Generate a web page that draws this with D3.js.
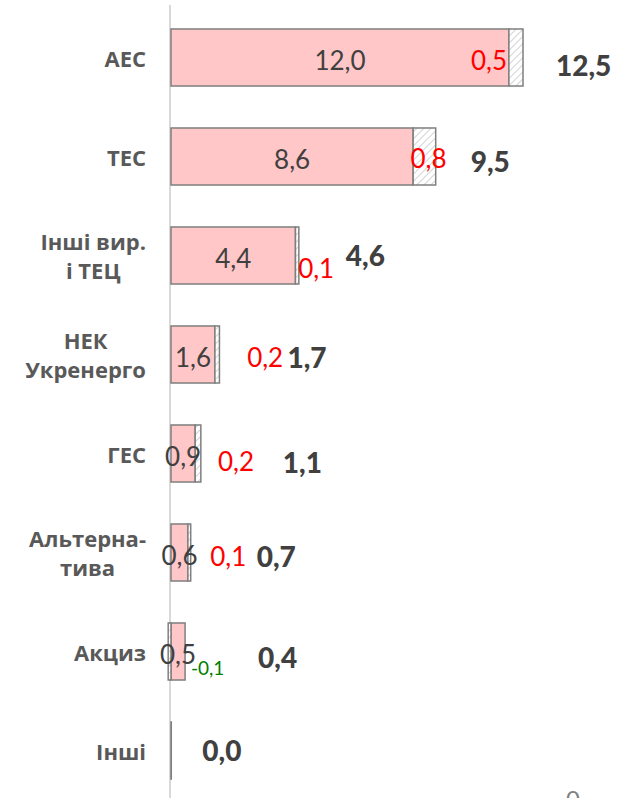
<!DOCTYPE html>
<html lang="uk">
<head>
<meta charset="UTF-8">
<title>Bar chart</title>
<script src="https://d3js.org/d3.v7.min.js"></script>
<style>
  html, body { margin: 0; padding: 0; background: #fff; }
  svg { display: block; }
</style>
</head>
<body>
<div id="chart"></div>
<script>
// data
var categories = ["АЕС", "ТЕС", "Інші вир.\nі ТЕЦ", "НЕК\nУкренерго", "ГЕС", "Альтерна-\nтива", "Акциз", "Інші"];
var baseValues = [12.0, 8.6, 4.42, 1.56, 0.86, 0.6, 0.5, 0.01];
var changeValues = [0.5, 0.8, 0.12, 0.16, 0.2, 0.1, -0.1, 0];
var baseLabels = ["12,0", "8,6", "4,4", "1,6", "0,9", "0,6", "0,5", ""];
var changeLabels = ["0,5", "0,8", "0,1", "0,2", "0,2", "0,1", "-0,1", ""];
var totalLabels = ["12,5", "9,5", "4,6", "1,7", "1,1", "0,7", "0,4", "0,0"];

// label nudges (px), the labels were moved by hand in the original
var changeDx = [-27, 4, 19, 48, 38, 39, 38, 0];
var changeDy = [2, 1, 12, 2, 7, 3, 16, 0];
var totalDx = [33, 35, 47, 68, 82, 66, 73, 31];
var totalDy = [7, 4, -1, 2, 8, 3, 5, -1];

var width = 630, height = 798;

var svg = d3.select("#chart").append("svg")
    .attr("width", width)
    .attr("height", height);

var defs = svg.append("defs");
var pat = defs.append("pattern")
    .attr("id", "hatch")
    .attr("patternUnits", "userSpaceOnUse")
    .attr("width", 5).attr("height", 5)
    .attr("patternTransform", "rotate(45)");
pat.append("rect").attr("width", 5).attr("height", 5).attr("fill", "#fff");
pat.append("line")
    .attr("x1", 0).attr("y1", 0).attr("x2", 0).attr("y2", 5)
    .attr("stroke", "#bfbfbf").attr("stroke-width", 1.4);

var x = d3.scaleLinear().domain([0, 12.5]).range([171, 523]);
var y = d3.scaleBand()
    .domain(categories)
    .range([8, 8 + 99 * categories.length])
    .paddingInner(0.424)
    .paddingOuter(0.212);

// vertical axis line
svg.append("line")
    .attr("x1", 170).attr("x2", 170)
    .attr("y1", 5).attr("y2", height)
    .attr("stroke", "#d9d9d9").attr("stroke-width", 2);

var rows = svg.selectAll("g.row")
    .data(categories)
    .enter().append("g")
    .attr("class", "row");

// main segment
rows.append("rect")
    .attr("x", function(d, i) { return x(0); })
    .attr("y", function(d) { return y(d); })
    .attr("width", function(d, i) { return x(baseValues[i]) - x(0); })
    .attr("height", y.bandwidth())
    .attr("fill", "#ffc7c7")
    .attr("stroke", "#7f7f7f")
    .attr("stroke-width", 1.5);

// change segment (hatched)
rows.filter(function(d, i) { return changeValues[i] !== 0; })
    .append("rect")
    .attr("x", function(d) {
        var i = categories.indexOf(d);
        return changeValues[i] > 0 ? x(baseValues[i]) : x(changeValues[i]);
    })
    .attr("y", function(d) { return y(d); })
    .attr("width", function(d) {
        var i = categories.indexOf(d);
        return Math.abs(x(changeValues[i]) - x(0));
    })
    .attr("height", y.bandwidth())
    .attr("fill", "url(#hatch)")
    .attr("stroke", "#7f7f7f")
    .attr("stroke-width", 1.5);

function mid(d) { return y(d) + y.bandwidth() / 2; }

// value labels inside the bars
rows.append("text")
    .attr("x", function(d, i) { return (x(0) + x(baseValues[i])) / 2; })
    .attr("y", function(d) { return mid(d) + 2; })
    .attr("text-anchor", "middle")
    .attr("dominant-baseline", "central")
    .style("font-family", "Lato, sans-serif")
    .style("font-size", "26px")
    .attr("fill", "#404040")
    .text(function(d, i) { return baseLabels[i]; });

// change labels
rows.append("text")
    .attr("x", function(d, i) {
        var a = changeValues[i] > 0 ? baseValues[i] : changeValues[i];
        var b = changeValues[i] > 0 ? baseValues[i] + changeValues[i] : 0;
        return (x(a) + x(b)) / 2 + changeDx[i];
    })
    .attr("y", function(d, i) { return mid(d) + changeDy[i]; })
    .attr("text-anchor", "middle")
    .attr("dominant-baseline", "central")
    .style("font-family", "Lato, sans-serif")
    .style("font-size", function(d, i) { return changeValues[i] < 0 ? "19px" : "26px"; })
    .attr("fill", function(d, i) { return changeValues[i] < 0 ? "#008000" : "#ff0000"; })
    .text(function(d, i) { return changeLabels[i]; });

// totals
rows.append("text")
    .attr("x", function(d, i) {
        var end = baseValues[i] + Math.max(0, changeValues[i]);
        return x(end) + totalDx[i];
    })
    .attr("y", function(d, i) { return mid(d) + totalDy[i]; })
    .attr("dominant-baseline", "central")
    .style("font-family", "Lato, sans-serif")
    .style("font-weight", "900")
    .style("font-size", "28px")
    .attr("fill", "#404040")
    .text(function(d, i) { return totalLabels[i]; });

// category labels
var lineH = 29;
rows.each(function(d) {
    var lines = d.split("\n");
    var t = d3.select(this).append("text")
        .attr("text-anchor", "middle")
        .style("font-family", "'Open Sans', sans-serif")
        .style("font-weight", "bold")
        .style("font-size", "22px")
        .attr("fill", "#595959");
    lines.forEach(function(s, k) {
        t.append("tspan")
            .attr("y", mid(d) + (k - (lines.length - 1) / 2) * lineH)
            .attr("dominant-baseline", "central")
            .text(s);
    });
    var maxW = 0;
    t.selectAll("tspan").each(function() {
        maxW = Math.max(maxW, this.getComputedTextLength());
    });
    t.selectAll("tspan").attr("x", 146 - maxW / 2);
});

// cut-off tick label at the bottom edge
svg.append("text")
    .attr("x", 573).attr("y", 808)
    .attr("text-anchor", "middle")
    .style("font-family", "Lato, sans-serif")
    .style("font-size", "24px")
    .attr("fill", "#808080")
    .text("0");
</script>
</body>
</html>
